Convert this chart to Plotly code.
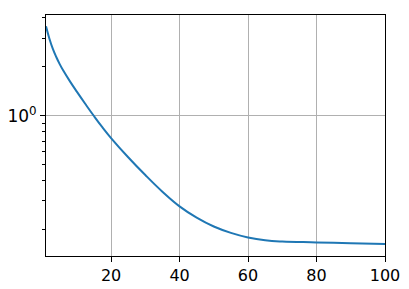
import plotly.graph_objects as go

x_vals = [1, 2, 3, 4, 5, 6, 8, 10, 12.5, 15, 17.5, 20, 25, 30, 35, 40, 45, 50, 55, 60, 65, 70, 80, 90, 100]
y_vals = [3.55, 2.98, 2.58, 2.30, 2.08, 1.905, 1.629, 1.409, 1.183, 0.998, 0.849, 0.731, 0.557,
          0.433, 0.342, 0.278, 0.237, 0.209, 0.191, 0.179, 0.172, 0.169, 0.167, 0.165, 0.163]

x_ticks = [20, 40, 60, 80, 100]
y_ticks = [1]
y_tick_labels = ["10<sup>0</sup>"]
y_minor = [0.2, 0.3, 0.4, 0.5, 0.6, 0.7, 0.8, 0.9, 2, 3, 4]

fig = go.Figure()
fig.add_trace(go.Scatter(x=x_vals, y=y_vals, mode="lines",
                         line=dict(color="#1f77b4", width=2, shape="spline", smoothing=1.2)))

fig.update_layout(
    width=409, height=289,
    margin=dict(l=46, r=24, t=15, b=33, autoexpand=False),
    paper_bgcolor="white", plot_bgcolor="white",
    showlegend=False,
    font=dict(family="DejaVu Sans", size=16, color="black"),
)
fig.update_xaxes(
    range=[1, 100], tickvals=x_ticks, ticks="outside", ticklen=5, tickwidth=1,
    tickcolor="black", showline=True, linecolor="black", linewidth=1, mirror=True,
    showgrid=True, gridcolor="#b0b0b0", gridwidth=1, zeroline=False, automargin=False,
)
fig.update_yaxes(
    type="log", range=[-0.861, 0.620], tickvals=y_ticks, ticktext=y_tick_labels,
    ticks="outside", ticklen=5, tickwidth=1, tickcolor="black",
    showline=True, linecolor="black", linewidth=1, mirror=True,
    showgrid=True, gridcolor="#b0b0b0", gridwidth=1, zeroline=False, automargin=False,
    tickfont=dict(size=17),
    minor=dict(tickvals=y_minor, ticks="outside", ticklen=3, tickwidth=1,
               tickcolor="black", showgrid=False),
)

fig.write_html("out.html")
